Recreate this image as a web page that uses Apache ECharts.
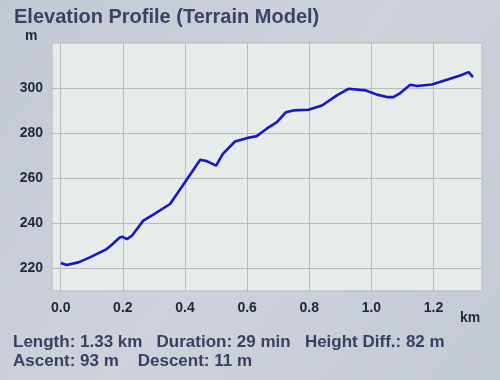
<!DOCTYPE html>
<html><head><meta charset="utf-8">
<script src="https://cdn.jsdelivr.net/npm/echarts@6/dist/echarts.min.js"></script>
<style>html,body{margin:0;padding:0;}#c{width:500px;height:380px;}</style>
</head><body><div id="c"></div>
<script>
const distanceKm = [0.001,0.019,0.057,0.094,0.148,0.169,0.189,0.198,0.213,0.229,0.266,0.298,0.352,0.400,0.449,0.470,0.500,0.522,0.561,0.604,0.631,0.663,0.696,0.725,0.749,0.797,0.841,0.889,0.926,0.980,1.018,1.050,1.071,1.093,1.125,1.147,1.195,1.243,1.286,1.313,1.318,1.327];
const elevationM = [222.4,221.5,222.7,224.9,228.6,231.1,233.6,234.1,233.0,234.5,241.2,243.9,248.6,258.2,268.2,267.6,265.6,270.8,276.3,278.0,278.7,282.0,284.9,289.3,290.1,290.4,292.3,296.8,299.7,299.0,297.1,296.0,296.0,297.8,301.5,300.9,301.6,303.7,305.6,307.1,306.7,304.9];
const xTicks = [0,0.2,0.4,0.6,0.8,1.0,1.2];
const yTicks = [220,240,260,280,300];
const titleText = 'Elevation Profile (Terrain Model)';
const statsLine1 = 'Length: 1.33 km   Duration: 29 min   Height Diff.: 82 m';
const statsLine2 = 'Ascent: 93 m    Descent: 11 m';

const chart = echarts.init(document.getElementById('c'));
const font = '"Liberation Sans", Arial, Helvetica, sans-serif';
chart.setOption({
  backgroundColor: new echarts.graphic.LinearGradient(0,0,1,1,[
    {offset:0,color:'#c3c9d3'},{offset:0.5,color:'#cdd2db'},{offset:1,color:'#c4cad4'}]),
  animation:false,
  title:{text:titleText,left:9,top:2,textStyle:{fontFamily:font,fontSize:20,fontWeight:'bold',color:'#3c4267'}},
  grid:{left:52,top:43,width:430,height:248,show:true,backgroundColor:'#e5ecea',borderColor:'#b3bbbd',borderWidth:1},
  xAxis:{type:'value',min:-0.028,max:1.356,
    axisLine:{show:false},axisTick:{show:false,customValues:xTicks},
    axisLabel:{customValues:xTicks,formatter:v=>v.toFixed(1),margin:10,fontFamily:font,fontSize:14,fontWeight:'bold',color:'#1e2836'},
    splitLine:{show:true,lineStyle:{color:'#b5bcbd',width:1}}},
  yAxis:{type:'value',min:210,max:320,
    axisLine:{show:false},axisTick:{show:false,customValues:yTicks},
    axisLabel:{customValues:yTicks,margin:9,fontFamily:font,fontSize:14,fontWeight:'bold',color:'#1e2836'},
    splitLine:{show:true,lineStyle:{color:'#b5bcbd',width:1}}},
  graphic:[
    {type:'text',left:25,top:29,style:{text:'m',font:'bold 14px '+font,fill:'#1e2836'}},
    {type:'text',left:460,top:311,style:{text:'km',font:'bold 14px '+font,fill:'#1e2836'}},
    {type:'text',left:13,top:334,style:{text:statsLine1,font:'bold 17px '+font,fill:'#3a4062'}},
    {type:'text',left:13,top:353,style:{text:statsLine2,font:'bold 17px '+font,fill:'#3a4062'}}
  ],
  series:[{type:'line',data:distanceKm.map((d,i)=>[d,elevationM[i]]),symbol:'none',
    lineStyle:{color:'#1616cc',width:2.6},itemStyle:{color:'#1616cc'}}]
});
</script></body></html>
